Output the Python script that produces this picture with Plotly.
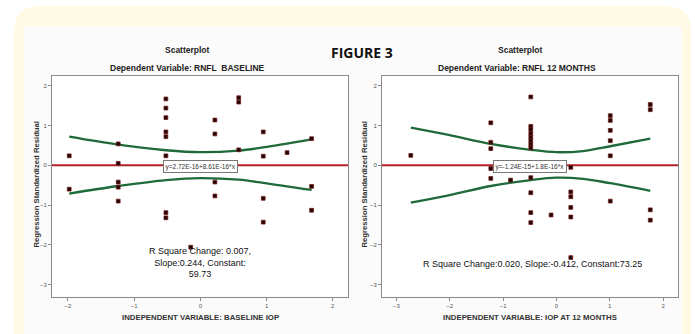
import plotly.graph_objects as go

W, H = 695, 334

# ---------------- data ----------------
left_x = [-1.98, -1.98,
          -1.24, -1.24, -1.24, -1.24, -1.24,
          -0.52, -0.52, -0.52, -0.52, -0.52, -0.52, -0.52, -0.52,
          -0.145,
          0.22, 0.22, 0.22, 0.22,
          0.58, 0.58, 0.58,
          0.95, 0.95, 0.95, 0.95,
          1.31,
          1.68, 1.68, 1.68]
left_y = [0.24, -0.60,
          0.54, 0.05, -0.42, -0.55, -0.90,
          1.67, 1.44, 1.20, 0.84, 0.72, 0.24, -1.19, -1.32,
          -2.06,
          1.14, 0.79, -0.42, -0.77,
          1.70, 1.59, 0.39,
          0.84, 0.23, -0.83, -1.43,
          0.32,
          0.67, -0.53, -1.13]

right_x = [-2.73,
           -1.23, -1.23, -1.23, -1.23, -1.23,
           -0.86,
           -0.48, -0.48, -0.48, -0.48, -0.48, -0.48, -0.48, -0.48, -0.48, -0.48, -0.48, -0.48,
           -0.10,
           0.27, 0.27, 0.27, 0.27, 0.27, 0.27,
           1.01, 1.01, 1.01, 1.01, 1.01, 1.01,
           1.76, 1.76, 1.76, 1.76]
right_y = [0.25,
           1.07, 0.58, 0.42, -0.08, -0.33,
           -0.37,
           1.72, 0.98, 0.90, 0.80, 0.71, 0.62, 0.53, 0.44, -0.31, -0.69, -1.19, -1.44,
           -1.25,
           -0.05, -0.67, -0.79, -1.06, -1.30, -2.32,
           1.25, 1.13, 0.88, 0.62, 0.24, -0.90,
           1.53, 1.40, -1.12, -1.38]

left_band_x = [-1.98, -1.24, -0.52, 0.0, 0.58, 0.95, 1.68]
left_band_up = [0.72, 0.52, 0.38, 0.33, 0.37, 0.45, 0.65]
left_band_lo = [-0.71, -0.52, -0.37, -0.32, -0.36, -0.44, -0.62]

right_band_x = [-2.73, -2.0, -1.23, -0.48, 0.0, 0.5, 1.01, 1.76]
right_band_up = [0.95, 0.76, 0.54, 0.39, 0.33, 0.36, 0.48, 0.67]
right_band_lo = [-0.94, -0.75, -0.52, -0.37, -0.31, -0.34, -0.45, -0.64]

x_ticks_left = [-2, -1, 0, 1, 2]
x_ticks_right = [-3, -2, -1, 0, 1, 2]
y_ticks = [-3, -2, -1, 0, 1, 2]

titles = ["Scatterplot", "Scatterplot"]
subtitles = ["Dependent Variable: RNFL  BASELINE", "Dependent Variable: RNFL 12 MONTHS"]
x_titles = ["INDEPENDENT VARIABLE: BASELINE IOP", "INDEPENDENT VARIABLE: IOP AT 12 MONTHS"]
y_title = "Regression Standardized Residual"
equations = ["y=2.72E-16+8.61E-16*x", "y=-1.24E-15+1.8E-16*x"]
stats = ["R Square Change: 0.007,<br>Slope:0.244, Constant:<br>59.73",
         "R Square Change:0.020, Slope:-0.412, Constant:73.25"]

# ---------------- helpers ----------------
def px(x):
    return x / W

def py(y):
    return 1 - y / H

def rounded_path(x0, y0, x1, y1, r):
    pts = []
    pts.append(f"M {px(x0 + r)} {py(y0)}")
    pts.append(f"L {px(x1 - r)} {py(y0)}")
    pts.append(f"Q {px(x1)} {py(y0)} {px(x1)} {py(y0 + r)}")
    pts.append(f"L {px(x1)} {py(y1 - r)}")
    pts.append(f"Q {px(x1)} {py(y1)} {px(x1 - r)} {py(y1)}")
    pts.append(f"L {px(x0 + r)} {py(y1)}")
    pts.append(f"Q {px(x0)} {py(y1)} {px(x0)} {py(y1 - r)}")
    pts.append(f"L {px(x0)} {py(y0 + r)}")
    pts.append(f"Q {px(x0)} {py(y0)} {px(x0 + r)} {py(y0)}")
    pts.append("Z")
    return " ".join(pts)

FONT = "Arial, Liberation Sans, sans-serif"
RED = "#b3222a"
GREEN = "#1f6a3b"

fig = go.Figure()

# background decoration (drawn first, underneath everything)
fig.add_shape(type="path", xref="paper", yref="paper",
              path=rounded_path(14, 6, 691, 380, 26),
              fillcolor="#fffae4", line=dict(width=0), layer="below")
fig.add_shape(type="rect", xref="paper", yref="paper",
              x0=px(24), x1=px(682), y0=py(340), y1=py(26),
              fillcolor="#fbfbfb", line=dict(width=0), layer="below")
for xd in ("x domain", "x2 domain"):
    yd = "y domain" if xd == "x domain" else "y2 domain"
    fig.add_shape(type="rect", xref=xd, yref=yd, x0=0, x1=1, y0=0, y1=1,
                  fillcolor="white", line=dict(width=0), layer="below")

for i, (xs, ys, bx, bu, bl) in enumerate([
        (left_x, left_y, left_band_x, left_band_up, left_band_lo),
        (right_x, right_y, right_band_x, right_band_up, right_band_lo)]):
    xa = "x" if i == 0 else "x2"
    ya = "y" if i == 0 else "y2"
    # zero reference line as a shape in data y-coordinates
    fig.add_shape(type="line", xref=f"{xa} domain", yref=ya, x0=0, x1=1, y0=0, y1=0,
                  line=dict(color=RED, width=2), layer="below")
    for band in (bu, bl):
        fig.add_trace(go.Scatter(x=bx, y=band, mode="lines", xaxis=xa, yaxis=ya,
                                 line=dict(color=GREEN, width=2.3, shape="spline", smoothing=1.0),
                                 hoverinfo="skip", showlegend=False))
    fig.add_trace(go.Scatter(x=xs, y=ys, mode="markers", xaxis=xa, yaxis=ya,
                             marker=dict(symbol="square", size=3.8, color="#1a0505",
                                         line=dict(color="#7a1a1a", width=0.8)),
                             showlegend=False))

axis_common = dict(showline=True, mirror=True, linecolor="#8a8a8a", linewidth=1,
                   ticks="outside", ticklen=3, tickcolor="#8a8a8a", tickwidth=1,
                   showgrid=False, zeroline=False,
                   tickfont=dict(family=FONT, size=6, color="#555"))

ydom = [py(296.5), py(75.5)]
fig.update_layout(
    width=W, height=H, margin=dict(l=0, r=0, t=0, b=0),
    paper_bgcolor="white", plot_bgcolor="rgba(0,0,0,0)",
    xaxis=dict(domain=[px(52), px(348)], range=[-2.24, 2.23], tickvals=x_ticks_left,
               anchor="y", **axis_common),
    yaxis=dict(domain=ydom, range=[-3.3, 2.26], tickvals=y_ticks, anchor="x", **axis_common),
    xaxis2=dict(domain=[px(382), px(678)], range=[-3.27, 2.28], tickvals=x_ticks_right,
                anchor="y2", **axis_common),
    yaxis2=dict(domain=ydom, range=[-3.3, 2.26], tickvals=y_ticks, anchor="x2", **axis_common),
)

def text(x, y, t, size, color="#222", family=FONT, **kw):
    d = dict(x=px(x), y=py(y), text=t, showarrow=False, xref="paper", yref="paper",
             xanchor="center", yanchor="middle",
             font=dict(family=family, size=size, color=color))
    d.update(kw)
    return d

ann = []
centers = [(200, 36, 166, 187), (530, 364, 166, 520)]
for i in range(2):
    cx, ytx, eqy, tcx = centers[i]
    ann.append(text(tcx, 50, f"<b>{titles[i]}</b>", 8.5))
    ann.append(text(tcx - (0 if i == 0 else 3), 68, f"<b>{subtitles[i]}</b>", 8.5))
    ann.append(text(cx, 317, f"<b>{x_titles[i]}</b>", 7.8, color="#333"))
    ann.append(text(ytx, 184.5, f"<b>{y_title}</b>", 7.7, color="#333", textangle=-90))
    ann.append(text(cx, eqy, equations[i], 6.5, color="#333", bgcolor="white",
                    bordercolor="#777", borderwidth=1, borderpad=1.5))

ann.append(text(200, 262, stats[0], 9, color="#111"))
ann.append(text(532, 264, stats[1], 9, color="#111"))
ann.append(text(362, 52, "<b>FIGURE 3</b>", 14, color="#111",
                family="Open Sans, Arial, sans-serif"))

fig.update_layout(annotations=ann)
fig.write_html("out.html", config={"displayModeBar": False},
               post_script="document.body.style.margin='0px';document.body.style.overflow='hidden';")
